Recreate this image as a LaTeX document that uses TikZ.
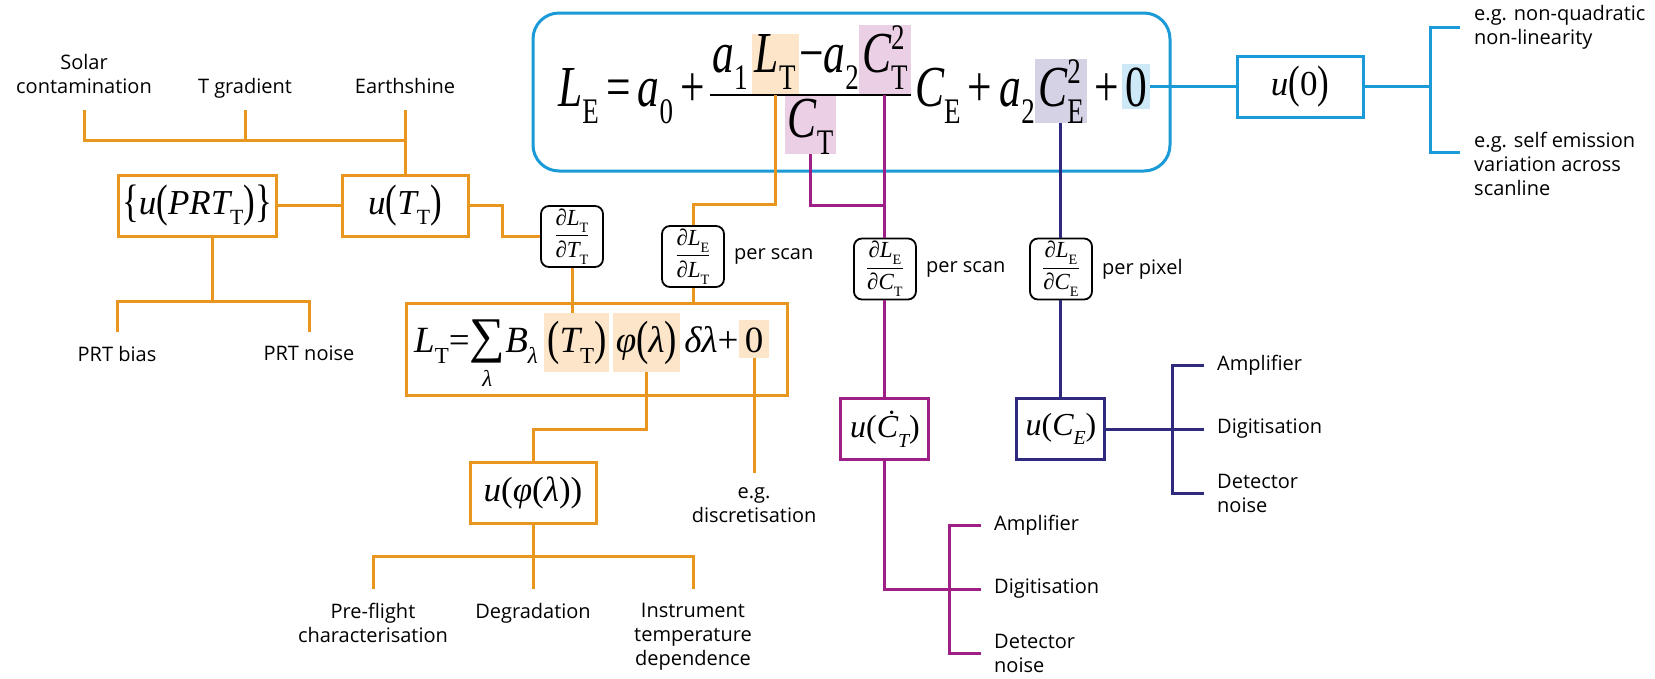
\RequirePackage{fix-cm}
\documentclass[tikz,border=0pt]{standalone}
\usepackage{amsmath}
\usepackage{fontspec}
\setsansfont{Open Sans}
\newfontfamily\tms{Liberation Serif}
\usepackage{graphicx}
\usepackage{xcolor}
\usepackage{tikz}
\usetikzlibrary{positioning, calc, fit}
\definecolor{orangeL}{HTML}{E8961E}
\definecolor{pinkL}{HTML}{9E1F85}
\definecolor{navyL}{HTML}{2F2A7D}
\definecolor{blueL}{HTML}{1A9BD7}
\definecolor{orangeH}{HTML}{FCE5C8}
\definecolor{pinkH}{HTML}{EBCFE5}
\definecolor{navyH}{HTML}{D6D2E6}
\definecolor{blueH}{HTML}{CDE9F7}
% symbols set in Times-like text
\newcommand{\iv}[1]{{\itshape #1}}
\newcommand{\sbs}[1]{\raisebox{-0.3em}{\scalebox{0.62}{#1}}}
\newcommand{\sps}[1]{\raisebox{0.38em}{\scalebox{0.62}{#1}}}
\newcommand{\sbsp}[2]{\rlap{\sps{#2}}\sbs{#1}}
\newcommand{\bg}[1]{\raisebox{-0.06em}{\scalebox{1}[1.3]{#1}}}
\newcommand{\mth}[1]{\scalebox{0.75}[1]{#1}}
\newcommand{\sumlam}{\begin{tabular}[t]{@{}c@{}}\scalebox{1.35}{∑}\\[-6pt]\scalebox{0.62}{\iv{λ}}\end{tabular}}
\tikzset{
  wire/.style={draw=#1, line width=3pt},
  frame/.style={draw=#1, line width=3pt, inner sep=0pt},
  eqbox/.style={draw=blueL, line width=3pt, rounded corners=26pt, inner sep=0pt},
  ubox/.style={
    draw=#1, line width=3pt, fill=white, inner sep=0pt,
    minimum height=61pt, font=\tms\fontsize{35}{40}\selectfont
  },
  deriv/.style={
    draw=black, line width=1.8pt, rounded corners=8pt, fill=white,
    inner sep=0pt, minimum width=62pt, minimum height=61pt,
    font=\tms\fontsize{23}{26}\selectfont
  },
  eqn/.style={inner sep=0pt, font=\tms\fontsize{58}{60}\selectfont},
  eqs/.style={inner sep=0pt, font=\tms\fontsize{37}{40}\selectfont},
  hl/.style={fill=#1, inner xsep=3pt, inner ysep=0pt},
  txt/.style={font=\sffamily\fontsize{20}{24}\selectfont, align=center, inner sep=0pt},
  toplbl/.style={txt, anchor=south, inner ysep=16pt, text depth=0pt},
  botlbl/.style={txt, anchor=north, inner ysep=14pt},
  sidelbl/.style={txt, align=left, anchor=west, inner xsep=13pt}
}

\begin{document}
\begin{tikzpicture}[x=1pt, y=-1pt]
  \fill[white] (0,0) rectangle (1655,678);
  \useasboundingbox (0,0) rectangle (1655,678);

  % measurement equation
  \node[eqbox, fit={(533,13) (1170,171)}] (eqbox) {};
  \node[eqn, anchor=base west] (lhs) at (558,106) {\mth{\iv{L}\sbs{E}\,=\,\iv{a}\sbs{0}\,+}};
  \coordinate (barL) at ($(lhs.base east)+(5,-11)$);
  \node[eqn, anchor=base west] (na) at ($(barL)+(2,-23)$) {\mth{\iv{a}\sbs{1}}};
  \node[eqn, hl=orangeH, anchor=base west, text height=38pt, text depth=23pt, xshift=4pt] (hLT) at (na.base east) {\mth{\iv{L}\sbs{T}}};
  \node[eqn, anchor=base west] (nb) at (hLT.base east) {\mth{−\iv{a}\sbs{2}}};
  \node[eqn, hl=pinkH, anchor=base west, text height=47pt, text depth=23pt] (hCT) at (nb.base east) {\mth{\iv{C}\sbsp{T}{2}}};
  \coordinate (barR) at (hCT.east |- barL);
  \node[eqn, hl=pinkH, anchor=north, text height=42pt, text depth=17pt] (hCd) at ($(barL)!0.5!(barR)$) {\mth{\iv{C}\sbs{T}}};
  \draw[line width=2.2pt] (barL) -- (barR);
  \node[eqn, anchor=base west, xshift=4pt] (nc) at (barR |- lhs.base) {\mth{\iv{C}\sbs{E}\,+\,\iv{a}\sbs{2}}};
  \node[eqn, hl=navyH, anchor=base west, text height=47pt, text depth=17pt] (hCE) at (nc.base east) {\mth{\iv{C}\sbsp{E}{2}}};
  \node[eqn, anchor=base west] (nd) at (hCE.base east) {\mth{\,+}};
  \node[eqn, hl=blueH, anchor=base west, text height=42pt, text depth=3pt, xshift=3pt] (hZ) at (nd.base east) {\mth{0}};

  % radiance of the target
  \node[frame=orangeL, fit={(406,303) (787,395)}] (ltbox) {};
  \node[eqs, anchor=base west] (la) at (414,352) {\iv{L}\sbs{T}=\sumlam\iv{B}\sbs{\iv{λ}}};
  \node[eqs, hl=orangeH, anchor=base west, text height=39pt, text depth=20pt, xshift=6pt] (hTT) at (la.base east) {\bg{(}\iv{T}\sbs{T}\bg{)}};
  \node[eqs, hl=orangeH, anchor=base west, text height=39pt, text depth=20pt, xshift=3pt] (hPhi) at (hTT.base east) {\iv{φ}\bg{(}\iv{λ}\bg{)}};
  \node[eqs, anchor=base west, xshift=4pt] (lb) at (hPhi.base east) {\iv{δλ}+};
  \node[eqs, hl=orangeH, anchor=base west, text height=32pt, text depth=6pt, inner xsep=6pt] (hZT) at (lb.base east) {0};

  % uncertainty boxes
  \node[ubox=orangeL, minimum width=158pt] (uprt) at (197,205.5) {\bg{\{}\iv{u}\bg{(}\iv{PRT}\sbs{T}\bg{)}\bg{\}}};
  \node[ubox=orangeL, minimum width=126pt] (uTT) at (405,205.5) {\iv{u}\bg{(}\iv{T}\sbs{T}\bg{)}};
  \node[ubox=orangeL, minimum width=126pt] (uphi) at (533,493) {\iv{u}(\iv{φ}(\iv{λ}))};
  \node[ubox=pinkL, minimum width=88pt, font=\tms\fontsize{32}{36}\selectfont] (uCT) at (hCT.south |- 0,429) {\iv{u}(\iv{Ċ}\sbs{\iv{T}})};
  \node[ubox=navyL, minimum width=88pt, font=\tms\fontsize{32}{36}\selectfont] (uCE) at (hCE.south |- 0,429) {\iv{u}(\iv{C}\sbs{\iv{E}})};
  \node[ubox=blueL, minimum width=126pt] (uZ) at (1300,0 |- hZ.east) {\iv{u}\bg{(}0\bg{)}};

  % sensitivity coefficients
  \node[deriv] (dTT) at (572,236.5) {$\dfrac{\text{\iv{∂L}\sbs{T}}}{\text{\iv{∂T}\sbs{T}}}$};
  \node[deriv] (dLT) at (693,256.5) {$\dfrac{\text{\iv{∂L}\sbs{E}}}{\text{\iv{∂L}\sbs{T}}}$};
  \node[deriv] (dCT) at (hCT.south |- 0,269) {$\dfrac{\text{\iv{∂L}\sbs{E}}}{\text{\iv{∂C}\sbs{T}}}$};
  \node[deriv] (dCE) at (hCE.south |- 0,269) {$\dfrac{\text{\iv{∂L}\sbs{E}}}{\text{\iv{∂C}\sbs{E}}}$};
  \node[txt, right=9pt of dLT] (psLT) {per scan};
  \node[txt, right=9pt of dCT] (psCT) {per scan};
  \node[txt, right=9pt of dCE] (ppCE) {per pixel};

  % orange tree
  \node[toplbl] (solar) at (84,110) {Solar\\contamination};
  \node[toplbl] (tgrad) at (245,110) {T gradient};
  \node[toplbl] (earth) at (405,110) {Earthshine};
  \coordinate (jT) at (405,140);
  \draw[wire=orangeL] (solar.south) |- (jT) -- (uTT.north);
  \draw[wire=orangeL] (tgrad.south) -- (tgrad.south |- jT);
  \draw[wire=orangeL] (earth.south) -- (jT);
  \draw[wire=orangeL] (uprt.east) -- (uTT.west);
  \coordinate (jP) at (212,301);
  \node[botlbl] (pbias) at (117,332) {PRT bias};
  \node[botlbl] (pnoise) at (309,332) {PRT noise};
  \draw[wire=orangeL] (pbias.north) |- (jP) -| (pnoise.north);
  \draw[wire=orangeL] (uprt.south -| jP) -- (jP);
  \draw[wire=orangeL] (uTT.east) -- ++(33,0) |- (dTT.west);
  \draw[wire=orangeL] (dTT.south) -- (dTT.south |- hTT.north);
  \draw[wire=orangeL] (hLT.south) |- ($(dLT.north)+(0,-21)$) -- (dLT.north);
  \draw[wire=orangeL] (dLT.south) -- (dLT.south |- ltbox.north);
  \coordinate (kphi) at (533,429);
  \draw[wire=orangeL] (hPhi.south) |- (kphi) -- (uphi.north);
  \coordinate (jphi) at (533,556);
  \node[botlbl] (pre) at (373,589) {Pre-flight\\characterisation};
  \node[botlbl] (degr) at (533,589) {Degradation};
  \node[botlbl] (instr) at (693,589) {Instrument\\temperature\\dependence};
  \draw[wire=orangeL] (pre.north) |- (jphi) -| (instr.north);
  \draw[wire=orangeL] (uphi.south) -- (degr.north);
  \node[botlbl] (disc) at (hZT.south |- 0,473) {e.g.\\discretisation};
  \draw[wire=orangeL] (hZT.south) -- (disc.north);

  % pink tree
  \draw[wire=pinkL] (hCd.south) |- (hCT.south |- 0,205);
  \draw[wire=pinkL] (hCT.south) -- (dCT.north);
  \draw[wire=pinkL] (dCT.south) -- (uCT.north);
  \coordinate (bCT) at (949,589);
  \node[sidelbl] (ampT) at (981,525) {Amplifier};
  \node[sidelbl] (digT) at (981,589) {Digitisation};
  \node[sidelbl] (detT) at (981,653) {Detector\\noise};
  \draw[wire=pinkL] (uCT.south) |- (bCT);
  \draw[wire=pinkL] (ampT.west) -| (bCT) |- (detT.west);
  \draw[wire=pinkL] (digT.west) -- (bCT);

  % navy tree
  \draw[wire=navyL] (hCE.south) -- (dCE.north);
  \draw[wire=navyL] (dCE.south) -- (uCE.north);
  \coordinate (bCE) at (1172,0 |- uCE.east);
  \node[sidelbl] (ampE) at (1204,365) {Amplifier};
  \node[sidelbl] (digE) at (1204,429) {Digitisation};
  \node[sidelbl] (detE) at (1204,493) {Detector\\noise};
  \draw[wire=navyL] (uCE.east) -- (bCE);
  \draw[wire=navyL] (ampE.west) -| (bCE) |- (detE.west);
  \draw[wire=navyL] (digE.west) -- (bCE);

  % blue tree
  \draw[wire=blueL] (hZ.east) -- (uZ.west);
  \coordinate (bZ) at (1430,0 |- uZ.east);
  \coordinate (tkA) at (1460,27);
  \coordinate (tkB) at (1460,152);
  \node[sidelbl, inner xsep=14pt] (nq) at (tkA) {e.g. non-quadratic\\non-linearity};
  \node[sidelbl, inner xsep=14pt, yshift=-12pt] (se) at (tkB) {e.g. self emission\\variation across\\scanline};
  \draw[wire=blueL] (uZ.east) -- (bZ);
  \draw[wire=blueL] (nq.west) -| (bZ) |- (tkB);
\end{tikzpicture}
\end{document}
